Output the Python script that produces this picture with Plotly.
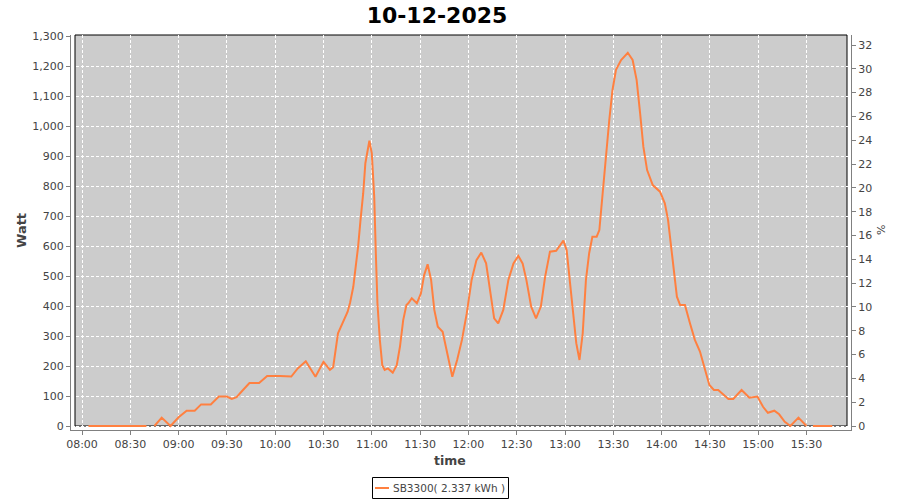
import plotly.graph_objects as go
import pandas as pd

DAY = "2025-12-10"
title_text = "10-12-2025"
series_name = "SB3300( 2.337 kWh )"

times = [
    "08:04:00", "08:40:00", "08:42:30",
    "08:45:00", "08:49:30", "08:55:00", "09:00:00", "09:05:00", "09:10:00", "09:14:00",
    "09:20:00", "09:25:00", "09:30:00", "09:33:00", "09:36:00", "09:40:00", "09:44:00",
    "09:50:00", "09:55:00", "10:03:00", "10:10:00", "10:14:00", "10:19:00", "10:25:00",
    "10:30:00", "10:34:00", "10:36:00", "10:39:00", "10:42:00", "10:45:00", "10:46:30",
    "10:48:30", "10:50:00", "10:51:30", "10:53:00", "10:54:40", "10:56:00", "10:58:30",
    "11:00:00", "11:01:30", "11:02:30", "11:03:30", "11:05:00", "11:06:30", "11:08:00",
    "11:10:00", "11:13:00", "11:15:30", "11:17:30", "11:19:30", "11:21:30", "11:22:40",
    "11:24:50", "11:28:00", "11:30:30", "11:32:30", "11:34:40", "11:36:50", "11:38:50",
    "11:41:00", "11:44:00", "11:46:30", "11:50:00", "11:53:00", "11:56:00", "11:59:00",
    "12:02:00", "12:05:00", "12:08:00", "12:11:00", "12:13:30", "12:16:00", "12:18:30",
    "12:21:40", "12:24:50", "12:28:00", "12:31:00", "12:33:40", "12:36:00", "12:39:00",
    "12:42:00", "12:45:00", "12:47:40", "12:50:40", "12:54:30", "12:57:00", "12:59:00",
    "13:01:00", "13:03:00", "13:05:00", "13:07:00", "13:09:00", "13:11:00", "13:13:00",
    "13:15:00", "13:17:00", "13:19:40", "13:21:20", "13:23:20", "13:25:30", "13:27:30",
    "13:29:30", "13:31:40", "13:34:50", "13:39:00", "13:42:00", "13:44:30", "13:46:40",
    "13:48:40", "13:51:00", "13:54:30", "13:59:00", "14:02:00", "14:04:00", "14:06:00",
    "14:07:40", "14:09:30", "14:11:30", "14:14:30", "14:17:40", "14:20:40", "14:23:50",
    "14:27:00", "14:29:40", "14:32:30", "14:35:10", "14:41:30", "14:44:30", "14:49:40",
    "14:54:30", "14:59:30", "15:03:00", "15:06:00", "15:10:00", "15:13:00", "15:16:30",
    "15:20:00", "15:25:00", "15:30:00", "15:32:00",
    "15:34:00", "15:46:00",
]
watts = [
    0, 0, None,
    0, 28, 0, 29, 51, 51, 72,
    72, 98, 98, 90, 96, 120, 143,
    143, 167, 167, 165, 192, 216, 164,
    214, 187, 196, 309, 348, 381, 411,
    464, 531, 598, 687, 776, 876, 951,
    909, 764, 576, 409, 287, 203, 187,
    192, 178, 203, 265, 353, 403, 409,
    426, 409, 442, 503, 539, 487, 387,
    331, 314, 253, 164, 220, 287, 376,
    487, 553, 578, 542, 442, 359, 342,
    387, 487, 542, 567, 542, 487, 398,
    359, 398, 498, 581, 584, 603, 618,
    587, 487, 390, 276, 220, 309, 487,
    576, 631, 631, 653, 776, 909, 1020,
    1120, 1187, 1220, 1244, 1220, 1153, 1042,
    931, 853, 803, 781, 742, 687, 598,
    509, 431, 403, 403, 342, 287, 248,
    187, 137, 120, 120, 90, 90, 120,
    94, 98, 64, 44, 51, 39, 14,
    0, 28, 0, None,
    0, 0,
]

y_ticks_left = list(range(0, 1301, 100))
y_ticks_right = list(range(0, 33, 2))
x_tick_labels = ["08:00", "08:30", "09:00", "09:30", "10:00", "10:30", "11:00", "11:30",
                 "12:00", "12:30", "13:00", "13:30", "14:00", "14:30", "15:00", "15:30"]

x = pd.to_datetime([f"{DAY} {t}" for t in times])
x_tickvals = pd.to_datetime([f"{DAY} {t}" for t in x_tick_labels])

W, H = 900, 500
PL, PR, PT, PB = 71, 851, 35, 430  # plotly plot area (px)
ORANGE = "rgb(255,128,64)"
GRAY = "#808080"
TXT = "#444444"
FONT = "DejaVu Sans"

fig = go.Figure()
fig.add_trace(go.Scatter(x=x, y=watts, mode="lines", name=series_name,
                         line=dict(color=ORANGE, width=2), connectgaps=False,
                         showlegend=False))
fig.add_trace(go.Scatter(x=[x[0]], y=[None], yaxis="y2", mode="lines",
                         showlegend=False, hoverinfo="skip"))

# axis ranges that put 0 W at y=426 and 1,300 W at y=36
px_per_w = 0.3
y_lo = -(PB - 426) / px_per_w
y_hi = (426 - PT) / px_per_w
px_per_pct = (426 - 45) / 32
y2_lo = -(PB - 426) / px_per_pct
y2_hi = (426 - PT) / px_per_pct
px_per_min = 48.3 / 30
t0 = pd.Timestamp(f"{DAY} 08:00")
x_lo = t0 - pd.Timedelta(minutes=(82 - PL) / px_per_min)
x_hi = t0 + pd.Timedelta(minutes=(PR - 82) / px_per_min)

def fx(px):
    return (px - PL) / (PR - PL)

def fy(py):
    return (PB - py) / (PB - PT)

fig.update_layout(
    width=W, height=H,
    margin=dict(l=PL, r=W - PR, t=PT, b=H - PB, pad=0),
    paper_bgcolor="white", plot_bgcolor="white",
    font=dict(family=FONT, size=11, color=TXT),
    title=dict(text=f"<b>{title_text}</b>", x=437 / W, xanchor="center", y=1 - 15 / H,
               yanchor="middle", font=dict(family=FONT, size=22, color="black")),
    xaxis=dict(type="date", range=[x_lo, x_hi], tickvals=x_tickvals, ticktext=x_tick_labels,
               showgrid=True, gridcolor="white", griddash="3px,2px", gridwidth=1,
               showline=True, linecolor=GRAY, linewidth=1, ticks="outside", ticklen=4,
               tickcolor=GRAY, tickfont=dict(size=11, color=TXT), zeroline=False),
    yaxis=dict(range=[y_lo, y_hi], tickvals=y_ticks_left, tickformat=",",
               showgrid=True, gridcolor="white", griddash="3px,2px", gridwidth=1,
               showline=True, linecolor=GRAY, linewidth=1, ticks="outside", ticklen=4,
               tickcolor=GRAY, tickfont=dict(size=11, color=TXT), zeroline=False),
    yaxis2=dict(range=[y2_lo, y2_hi], tickvals=y_ticks_right, overlaying="y", side="right",
                showgrid=False, showline=True, linecolor=GRAY, linewidth=1,
                ticks="outside", ticklen=4, tickcolor=GRAY,
                tickfont=dict(size=11, color=TXT), zeroline=False),
    showlegend=False,
    shapes=[
        dict(type="rect", xref="paper", yref="paper", x0=fx(75), x1=fx(847), y0=fy(426), y1=1,
             fillcolor="#CCCCCC", line=dict(width=0), layer="below"),
        dict(type="rect", xref="paper", yref="paper", x0=fx(75), x1=fx(847), y0=fy(426), y1=1,
             fillcolor="rgba(0,0,0,0)", line=dict(color="black", width=1), layer="between"),
        # legend box and swatch
        dict(type="rect", xref="paper", yref="paper", x0=fx(372.5), x1=fx(508.5),
             y0=fy(498.5), y1=fy(477.5), fillcolor="rgba(0,0,0,0)",
             line=dict(color="black", width=1), layer="below"),
        dict(type="line", xref="paper", yref="paper", x0=fx(375), x1=fx(389),
             y0=fy(488), y1=fy(488), line=dict(color=ORANGE, width=2), layer="above"),
    ],
    annotations=[
        dict(text="<b>Watt</b>", xref="paper", yref="paper", x=fx(21), y=fy(231),
             xanchor="center", yanchor="middle", textangle=-90, showarrow=False,
             font=dict(family=FONT, size=13, color=TXT)),
        dict(text="<b>time</b>", xref="paper", yref="paper", x=fx(450), y=fy(460),
             xanchor="center", yanchor="middle", showarrow=False,
             font=dict(family=FONT, size=12.5, color=TXT)),
        dict(text="%", xref="paper", yref="paper", x=fx(881), y=fy(230),
             xanchor="center", yanchor="middle", textangle=-90, showarrow=False,
             font=dict(family=FONT, size=11, color=TXT)),
        dict(text=series_name, xref="paper", yref="paper", x=fx(391), y=fy(488),
             xanchor="left", yanchor="middle", showarrow=False,
             font=dict(family=FONT, size=10.5, color=TXT)),
    ],
)

fig.write_html("out.html", config={"displayModeBar": False},
               post_script="document.body.style.margin='0px';"
                           "document.documentElement.style.overflow='hidden';")
